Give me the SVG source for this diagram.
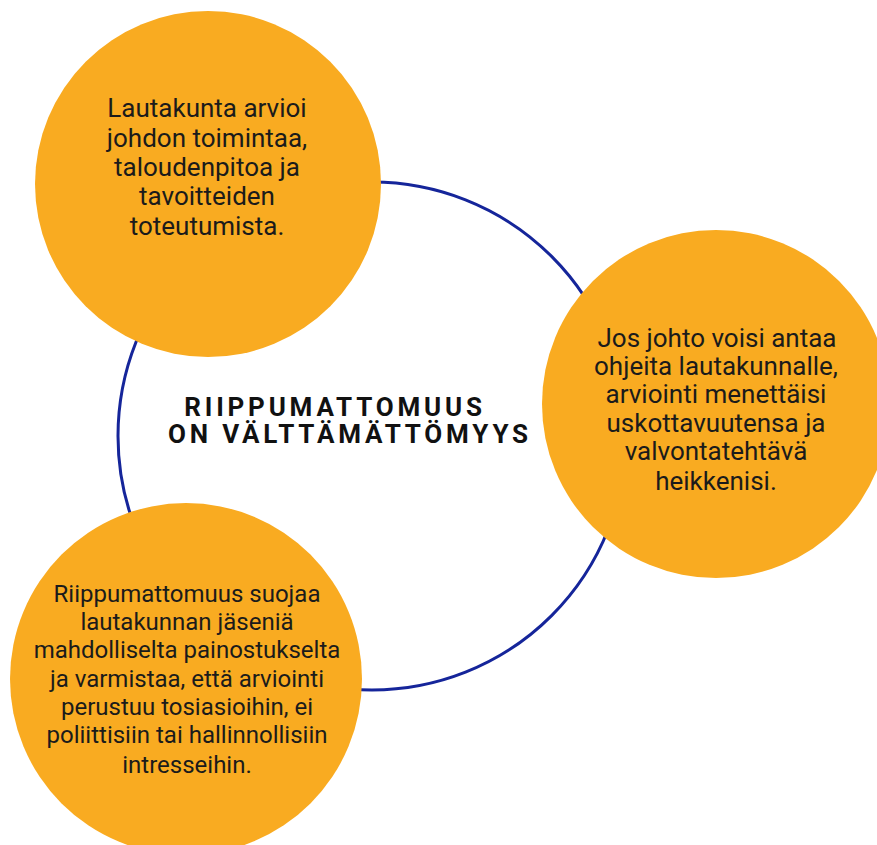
<svg xmlns="http://www.w3.org/2000/svg" width="877" height="845" viewBox="0 0 877 845">
<style>
.node{fill:#F9AB21}
.t{font-family:Roboto,"Liberation Sans",sans-serif;font-size:26px;fill:#1b1b1b;text-anchor:middle}
.s{font-size:24px}
.title{font-family:Roboto,"Liberation Sans",sans-serif;font-size:26px;font-weight:bold;fill:#111;text-anchor:middle;letter-spacing:3.8px}
.ring{fill:none;stroke:#15259a;stroke-width:3}
</style>
<rect width="877" height="845" fill="#ffffff"/>
<g id="connectors">
<circle class="ring" cx="372" cy="436" r="254"/>
</g>
<g id="title">
<text class="title" x="335" y="416">RIIPPUMATTOMUUS</text>
<text class="title" x="350" y="443">ON VÄLTTÄMÄTTÖMYYS</text>
</g>
<g id="node-top">
<circle class="node" cx="208" cy="184" r="173"/>
<text class="t" x="207" y="117">Lautakunta arvioi</text>
<text class="t" x="207" y="147">johdon toimintaa,</text>
<text class="t" x="207" y="176">taloudenpitoa ja</text>
<text class="t" x="207" y="205">tavoitteiden</text>
<text class="t" x="207" y="235">toteutumista.</text>
</g>
<g id="node-right">
<circle class="node" cx="716" cy="404" r="174"/>
<text class="t" x="717" y="347">Jos johto voisi antaa</text>
<text class="t" x="716" y="375">ohjeita lautakunnalle,</text>
<text class="t" x="716" y="403">arviointi menettäisi</text>
<text class="t" x="716" y="432">uskottavuutensa ja</text>
<text class="t" x="716" y="460">valvontatehtävä</text>
<text class="t" x="716" y="490">heikkenisi.</text>
</g>
<g id="node-bottom">
<circle class="node" cx="186" cy="679" r="176"/>
<text class="t s" x="187" y="602">Riippumattomuus suojaa</text>
<text class="t s" x="187" y="630">lautakunnan jäseniä</text>
<text class="t s" x="187" y="658">mahdolliselta painostukselta</text>
<text class="t s" x="187" y="687">ja varmistaa, että arviointi</text>
<text class="t s" x="187" y="715">perustuu tosiasioihin, ei</text>
<text class="t s" x="187" y="743">poliittisiin tai hallinnollisiin</text>
<text class="t s" x="187" y="773">intresseihin.</text>
</g>
</svg>
